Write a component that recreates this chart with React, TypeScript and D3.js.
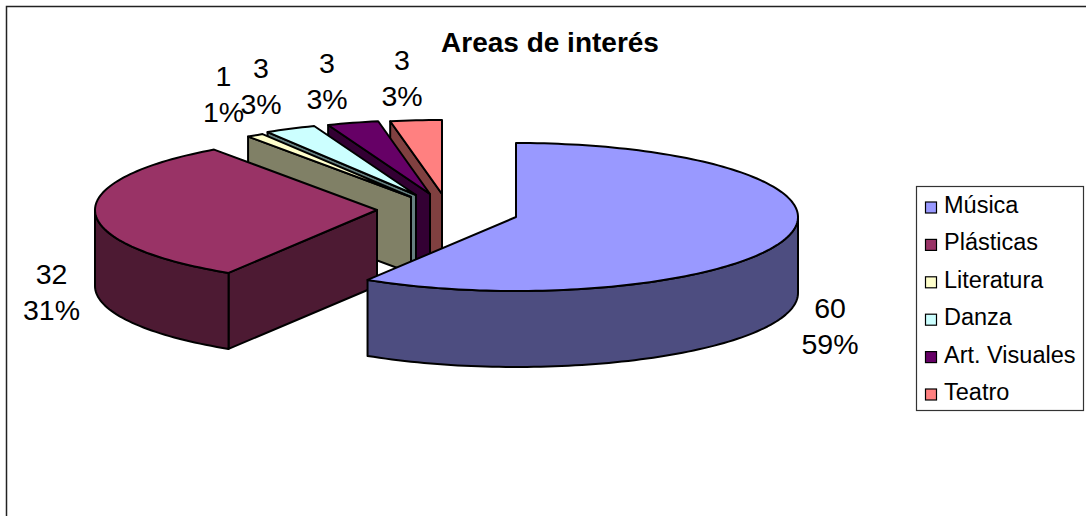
import React from "react";
import * as d3 from "d3";

const categories = ["Música", "Plásticas", "Literatura", "Danza", "Art. Visuales", "Teatro"];
const values = [60, 32, 1, 3, 3, 3];
const percents = ["59%", "31%", "1%", "3%", "3%", "3%"];
const topColors = ["#9999ff", "#993366", "#ffffcc", "#ccffff", "#660066", "#ff8080"];
const sideColors = ["#4d4d80", "#4d1a33", "#808066", "#668080", "#330033", "#804040"];

const centers: [number, number][] = [[516, 217], [377, 210], [411, 197], [416, 195], [430, 194], [442, 194]];
const labelPos: [number, number][] = [[830, 318], [51.5, 284], [223.5, 86], [261, 78], [327, 73], [402, 70]];
const RX = 282, RY = 74, DEPTH = 76;
const FONT = "'Liberation Sans', Arial, sans-serif";

const arcs = d3.pie<number>().sort(null).value((d) => d).startAngle(0).endAngle(2 * Math.PI)(values);
const pt = (i: number, t: number, dz = 0): [number, number] => [
  centers[i][0] + RX * Math.sin(t),
  centers[i][1] - RY * Math.cos(t) + dz,
];
const samples = (a: number, b: number) => {
  const n = Math.max(2, Math.ceil(Math.abs(b - a) * 40));
  return d3.range(n + 1).map((k) => a + ((b - a) * k) / n);
};
const line = d3.line();
const topPath = (i: number) => {
  const a = arcs[i];
  return line([centers[i], ...samples(a.startAngle, a.endAngle).map((t) => pt(i, t))]) + "Z";
};
const wallPath = (i: number) => {
  const a = arcs[i];
  const s = Math.max(a.startAngle, Math.PI / 2);
  const e = Math.min(a.endAngle, (3 * Math.PI) / 2);
  if (e <= s) return null;
  const ts = samples(s, e);
  return line([...ts.map((t) => pt(i, t)), ...ts.slice().reverse().map((t) => pt(i, t, DEPTH))]) + "Z";
};
const cutPath = (i: number, t: number) =>
  line([centers[i], pt(i, t), pt(i, t, DEPTH), [centers[i][0], centers[i][1] + DEPTH]]) + "Z";

const drawOrder = [5, 4, 3, 2, 1, 0];

export default function App() {
  return (
    <svg width={1086} height={516} style={{ position: "absolute", left: 0, top: 0, background: "#fff" }}>
      <path d="M6.5 516V6.5H1086" fill="none" stroke="#222" strokeWidth={1.5} />
      <text x={550} y={52} textAnchor="middle" fontFamily={FONT} fontWeight="bold" fontSize={28} fill="#000">
        Areas de interés
      </text>
      {drawOrder.map((i) => {
        const a = arcs[i];
        const wall = wallPath(i);
        return (
          <g key={i} stroke="#000" strokeWidth={2} strokeLinejoin="round">
            {i !== 0 && <path d={cutPath(i, a.startAngle)!} fill={sideColors[i]} />}
            {wall && <path d={wall} fill={sideColors[i]} />}
            <path d={topPath(i)} fill={topColors[i]} />
          </g>
        );
      })}
      {values.map((v, i) => (
        <text key={i} fontFamily={FONT} fontSize={28.5} textAnchor="middle" fill="#000">
          <tspan x={labelPos[i][0]} y={labelPos[i][1]}>{v}</tspan>
          <tspan x={labelPos[i][0]} y={labelPos[i][1] + 35.5}>{percents[i]}</tspan>
        </text>
      ))}
      <rect x={916.5} y={186.5} width={167} height={224} fill="#fff" stroke="#333" strokeWidth={1.2} />
      {categories.map((c, i) => {
        const y = 213 + i * 37.4;
        return (
          <g key={c}>
            <rect x={925.5} y={y - 11} width={11} height={11} fill={topColors[i]} stroke="#000" strokeWidth={1.2} />
            <text x={944} y={y} fontFamily={FONT} fontSize={23.5} fill="#000">{c}</text>
          </g>
        );
      })}
    </svg>
  );
}
